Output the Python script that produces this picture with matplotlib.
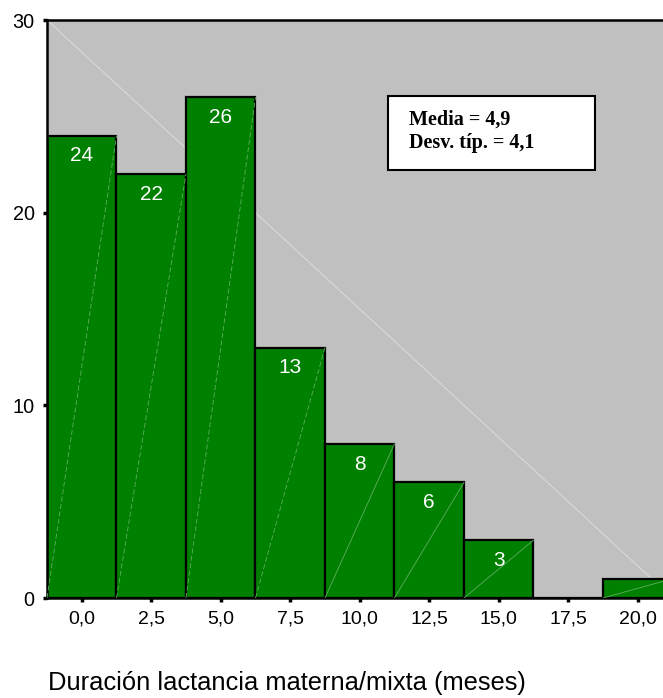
import matplotlib.pyplot as plt
import numpy as np
from matplotlib.patches import Rectangle

plt.rcParams['font.family'] = ['Liberation Sans', 'DejaVu Sans']

centros = [0.0, 2.5, 5.0, 7.5, 10.0, 12.5, 15.0, 17.5, 20.0]
frecuencias = [24, 22, 26, 13, 8, 6, 3, 0, 1]
etiquetas_x = ['0,0', '2,5', '5,0', '7,5', '10,0', '12,5', '15,0', '17,5', '20,0']
media_txt = 'Media = 4,9'
desv_txt = 'Desv. típ. = 4,1'
ancho = 2.5

fig = plt.figure(figsize=(6.63, 6.98), dpi=100)
ax = fig.add_axes([47/663, 100/698, 616/663, 578/698])
ax.set_facecolor('#C0C0C0')

# diagonal de fondo (estilo SPSS)
ax.plot([-1.25, 21.25], [30, 0], color='#dcdcdc', lw=0.7, zorder=1)

ax.bar(centros, frecuencias, width=ancho, color='#008000', edgecolor='black',
       linewidth=1.6, zorder=2)

for c, f in zip(centros, frecuencias):
    if f == 0:
        continue
    # diagonal clara dentro de cada barra
    ax.plot([c - ancho/2, c + ancho/2], [0, f], color='#5fae5f', lw=0.6,
            ls=(0, (6, 3)) if f > 10 else '-', zorder=3)
    if f > 1:
        ax.text(c, f - 1.05, str(f), color='white', ha='center', va='center',
                fontsize=15, zorder=4)

ax.set_xlim(-1.25, 20.91)
ax.set_ylim(0, 30)
ax.set_xticks(centros)
ax.set_xticklabels(etiquetas_x, fontsize=14)
ax.set_yticks([0, 10, 20, 30])
ax.set_yticklabels(['0', '10', '20', '30'], fontsize=14.3)
ax.tick_params(axis='both', direction='out', length=3, width=2.5, pad=6)

for s in ['left', 'bottom', 'top']:
    ax.spines[s].set_linewidth(1.8)
ax.spines['right'].set_visible(False)

# cuadro de estadisticos
ax.add_patch(Rectangle((11.02, 22.22), 7.44, 3.84, facecolor='white',
                       edgecolor='black', linewidth=1.5, zorder=5))
ax.text(11.79, 24.81, media_txt, fontsize=14.5, fontweight='bold',
        family='Liberation Serif', va='center', ha='left', zorder=6)
ax.text(11.79, 23.62, desv_txt, fontsize=14.5, fontweight='bold',
        family='Liberation Serif', va='center', ha='left', zorder=6)

fig.text(48/663, 1 - 683/698, 'Duración lactancia materna/mixta (meses)',
         fontsize=18.4, va='center', ha='left')

fig.savefig('out.png', dpi=100)
